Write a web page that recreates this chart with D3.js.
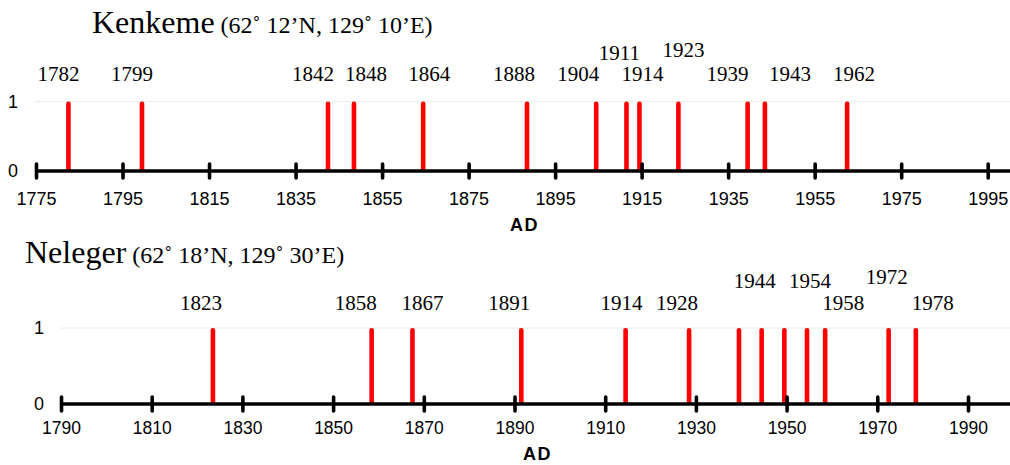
<!DOCTYPE html>
<html>
<head>
<meta charset="utf-8">
<script src="https://cdn.jsdelivr.net/npm/d3@7"></script>
<style>
  html,body{margin:0;padding:0;background:#fff;}
  svg{display:block;}
  .serif{font-family:"Liberation Serif","Times New Roman",serif;fill:#000;}
  .sans{font-family:"Liberation Sans",Arial,sans-serif;fill:#000;}
</style>
</head>
<body>
<svg id="chart" width="1010" height="465"></svg>
<script>
"use strict";
// two event timelines (Kenkeme / Neleger): a red stick for each event year, value 1

// ---- data ----
const kenkemeYears  = [1782,1799,1842,1848,1864,1888,1904,1911,1914,1923,1939,1943,1962];
const kenkemeValues = [1,1,1,1,1,1,1,1,1,1,1,1,1];
const kenkemeLabels = [1782,1799,1842,1848,1864,1888,1904,1911,1914,1923,1939,1943,1962];
const kenkemeTicks  = [1775,1795,1815,1835,1855,1875,1895,1915,1935,1955,1975,1995];

const nelegerYears  = [1823,1858,1867,1891,1914,1928,1939,1944,1949,1954,1958,1972,1978];
const nelegerValues = [1,1,1,1,1,1,1,1,1,1,1,1,1];
const nelegerLabels = [1823,1858,1867,1891,1914,1928,1944,1954,1958,1972,1978];
const nelegerTicks  = [1790,1810,1830,1850,1870,1890,1910,1930,1950,1970,1990];

const yTicks = [0,1];

// ---- layout (label nudges: px offset from the stick, and text row) ----
const kenkemeNudge = {1782:[-10,0],1799:[-10,0],1842:[-15,0],1848:[12,0],1864:[6,0],1888:[-13,0],
  1904:[-18,0],1911:[-7,1],1914:[3,0],1923:[5,2],1939:[-20,0],1943:[25,0],1962:[7,0]};
const nelegerNudge = {1823:[-12,0],1858:[-16,0],1867:[10,0],1891:[-12,0],1914:[-4,0],1928:[-12,0],
  1944:[-7,1],1954:[3,1],1958:[18,0],1972:[-2,2],1978:[17,0]};

const svg = d3.select("#chart");
const W = 1010;

function panel(o){
  const g = svg.append("g");
  const x = d3.scaleLinear().domain(o.domain).range(o.xr);
  const y = d3.scaleLinear().domain([0,1]).range(o.yr);

  // title
  const t = g.append("text").attr("class","serif").attr("x",o.titleX).attr("y",o.titleY);
  t.append("tspan").attr("font-size",32).text(o.name);
  t.append("tspan").attr("font-size",24).text(" " + o.coords);

  // faint gridline at 1
  g.append("line").attr("x1",x(o.domain[0])-1).attr("x2",W).attr("y1",y(1)).attr("y2",y(1))
    .attr("stroke","#ececec").attr("stroke-width",1);

  // y labels
  g.append("g").selectAll("text").data(yTicks).join("text").attr("class","sans")
    .attr("x",o.yLabX).attr("y",(d)=>y(d)).attr("dy","0.36em").attr("text-anchor","middle")
    .attr("font-size",18).text((d)=>d);

  // sticks
  const bw = 4.6;
  g.append("g").selectAll("rect").data(o.years).join("rect")
    .attr("x",(d)=>x(d+0.5)-bw/2).attr("width",bw)
    .attr("y",(d,i)=>y(o.values[i])).attr("height",(d,i)=>y(0)-y(o.values[i])+1)
    .attr("rx",2.2).attr("fill","#ff0000");

  // year labels over sticks
  g.append("g").selectAll("text").data(o.labels).join("text").attr("class","serif")
    .attr("x",(d)=>x(d+0.5)+o.nudge[d][0]).attr("y",(d)=>o.rows[o.nudge[d][1]])
    .attr("text-anchor","middle").attr("font-size",21).text((d)=>d);

  // axis: thick baseline + ticks crossing it
  g.append("line").attr("x1",x(o.domain[0])).attr("x2",W).attr("y1",y(0)).attr("y2",y(0))
    .attr("stroke","#000").attr("stroke-width",3.6);
  const ax = g.append("g").attr("transform",`translate(0,${y(0)-7})`)
    .call(d3.axisBottom(x).tickValues(o.ticks).tickFormat(d3.format("d")).tickSizeInner(14).tickSizeOuter(0).tickPadding(o.tickPad));
  ax.select(".domain").remove();
  ax.selectAll(".tick line").attr("stroke","#000").attr("stroke-width",3.6).attr("stroke-linecap","round");
  ax.selectAll(".tick text").attr("class","sans").attr("font-size",o.tickFs).attr("fill","#000")
    .style("font-family","'Liberation Sans',Arial,sans-serif");

  g.append("text").attr("class","sans").attr("x",o.adX).attr("y",o.adY)
    .attr("font-size",18).attr("font-weight","bold").attr("letter-spacing",1.5).text("AD");
}

panel({name:"Kenkeme", coords:"(62˚ 12’N, 129˚ 10’E)", titleX:92, titleY:33,
  domain:[1775,1995], xr:[36,987.7], yr:[171,101.5], yLabX:13,
  years:kenkemeYears, values:kenkemeValues, labels:kenkemeLabels, ticks:kenkemeTicks,
  nudge:kenkemeNudge, rows:[81,60,57], tickPad:14, tickFs:18, adX:510, adY:231});

panel({name:"Neleger", coords:"(62˚ 18’N, 129˚ 30’E)", titleX:25, titleY:263,
  domain:[1790,1990], xr:[61,968], yr:[404,328], yLabX:39,
  years:nelegerYears, values:nelegerValues, labels:nelegerLabels, ticks:nelegerTicks,
  nudge:nelegerNudge, rows:[310,288,284], tickPad:11, tickFs:17.5, adX:523, adY:460});
</script>
</body>
</html>
